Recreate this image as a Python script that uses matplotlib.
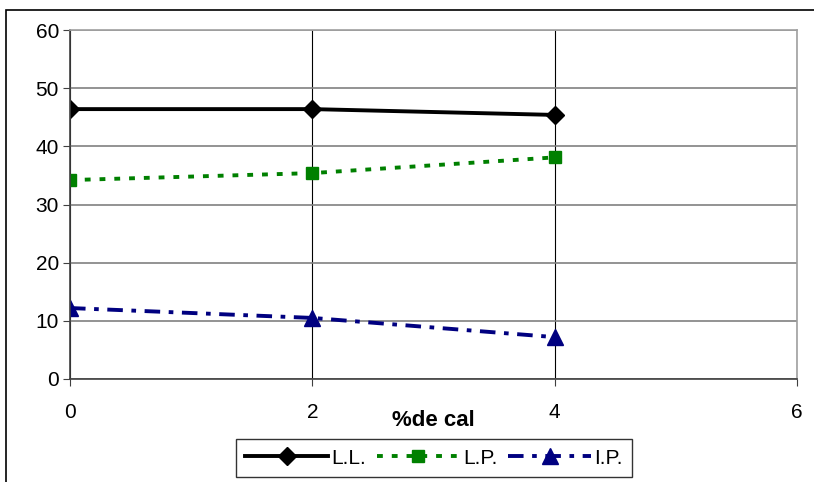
import matplotlib
matplotlib.use("Agg")
import matplotlib.pyplot as plt
from matplotlib.patches import Rectangle

# Data
cal_pct = [0, 2, 4]
limite_liquido = [46.4, 46.4, 45.4]
limite_plastico = [34.2, 35.4, 38.1]
indice_plastico = [12.2, 10.5, 7.2]

plt.rcParams["font.family"] = ["Liberation Sans", "DejaVu Sans"]

fig = plt.figure(figsize=(8.14, 4.82), dpi=100)
axis = fig.add_axes([70 / 814, 1 - 379 / 482, 727 / 814, 349 / 482])

# Outer chart border
fig.patches.append(
    Rectangle((6 / 814, -0.05), 1.0, 1 - 10 / 482 + 0.05,
              transform=fig.transFigure, fill=False, edgecolor="black", linewidth=1.2)
)

# Line plots
(ll,) = axis.plot(cal_pct, limite_liquido, color="black", linewidth=2.8,
                  marker="D", markersize=9.5, label="L.L.")
(lp,) = axis.plot(cal_pct, limite_plastico, color="#008000", linewidth=2.8,
                  linestyle=(0, (1.5, 2.3)), marker="s", markersize=8, label="L.P.")
(ip,) = axis.plot(cal_pct, indice_plastico, color="#000080", linewidth=2.8,
                  linestyle=(0, (4.0, 2.2, 1.2, 2.2)), marker="^", markersize=11, label="I.P.")

# Prettifying
axis.set_xlim(0, 6)
axis.set_ylim(0, 60)
axis.set_xticks([0, 2, 4, 6])
axis.set_yticks(range(0, 61, 10))
axis.yaxis.grid(True, color="#808080", linewidth=1.2)
axis.xaxis.grid(True, color="black", linewidth=0.8)
axis.set_axisbelow(True)
for side in ["top", "right"]:
    axis.spines[side].set_color("#a0a0a0")
    axis.spines[side].set_linewidth(1.2)
for side in ["left", "bottom"]:
    axis.spines[side].set_color("#404040")
    axis.spines[side].set_linewidth(1.2)
axis.tick_params(axis="both", labelsize=15, length=5, color="#404040")
axis.tick_params(axis="x", pad=12)
axis.tick_params(axis="y", pad=3)
axis.set_xlabel("%de cal", fontsize=16, fontweight="bold", labelpad=-8)

leg = axis.legend(handles=[ll, lp, ip], loc="center",
                  bbox_to_anchor=(434 / 814, 1 - 458 / 482), bbox_transform=fig.transFigure,
                  ncol=3, fontsize=15, frameon=True, fancybox=False,
                  handlelength=4.0, handletextpad=0.15, columnspacing=0.5,
                  borderpad=0.45, borderaxespad=0)
leg.get_frame().set_edgecolor("black")
leg.get_frame().set_linewidth(1.0)

plt.savefig("out.png", dpi=100)
